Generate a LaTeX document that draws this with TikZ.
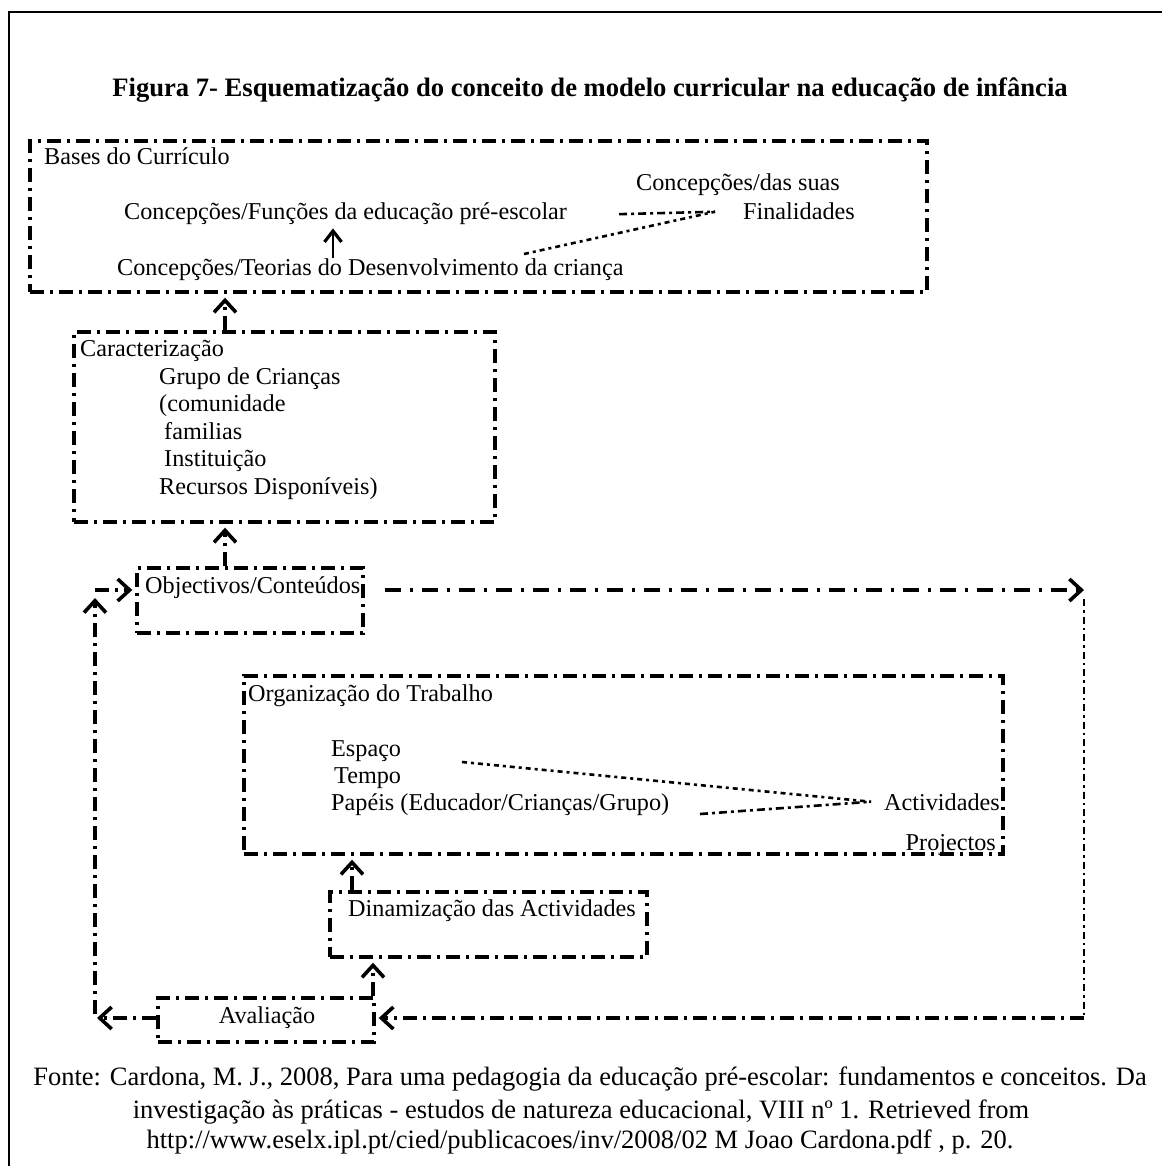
\documentclass[tikz,border=0pt]{standalone}
\usepackage{fontspec}
\setmainfont{Liberation Serif}
\usetikzlibrary{arrows.meta}
\tikzset{
  txt/.style={inner sep=0pt, anchor=base west, font=\fontsize{24.2}{29}\selectfont},
  panel/.style={draw, line width=3.4pt, dash pattern=on 14pt off 6pt on 3pt off 6pt, inner sep=0pt},
  flow/.style={line width=3.4pt, dash pattern=on 14pt off 6pt on 3pt off 6pt},
  longflow/.style={line width=3.4pt, dash pattern=on 16pt off 9pt on 3pt off 9pt},
  thinflow/.style={line width=2.6pt, dash pattern=on 8pt off 4pt on 3pt off 4pt},
  dotflow/.style={line width=2.6pt, dash pattern=on 5pt off 4pt on 3pt off 4pt},
  sideflow/.style={line width=2.2pt, dash pattern=on 7pt off 4pt on 2.5pt off 4pt},
  tip/.style={-{Straight Barb[length=12pt,width=22pt,line width=3.6pt]}},
  smalltip/.style={-{Straight Barb[length=11pt,width=17pt,line width=3.2pt]}},
}
\begin{document}
\begin{tikzpicture}[x=1pt,y=-1pt]
\useasboundingbox (0,0) rectangle (1161,1166);
% page frame (left and top edges)
\draw[line width=2.5pt] (9,1180) -- (9,12) -- (1175,12);

% title
\node[inner sep=0pt, anchor=base, font=\fontsize{26.6}{32}\selectfont\bfseries] (title) at (590,97)
  {Figura 7- Esquematização do conceito de modelo curricular na educação de infância};

% panels
\node[panel, minimum width=897pt, minimum height=151pt] (bases) at (478.5,216.5) {};
\node[panel, minimum width=421pt, minimum height=190pt] (carac) at (284.5,427) {};
\node[panel, minimum width=226pt, minimum height=65pt] (obj) at (250,600.5) {};
\node[panel, minimum width=759pt, minimum height=178pt] (org) at (623.5,765) {};
\node[panel, minimum width=317pt, minimum height=65pt] (dinam) at (488.5,924.5) {};
\node[panel, minimum width=216pt, minimum height=44pt] (aval) at (266,1020) {};

% texts of the curriculum bases
\node[txt] (basesT) at (44,165) {Bases do Currículo};
\node[txt] (funcoes) at (124,220) {Concepções/Funções da educação pré-escolar};
\node[txt] (dassuas) at (636,191) {Concepções/das suas};
\node[txt] (fin) at (743,220) {Finalidades};
\node[txt] (teorias) at (117,275) {Concepções/Teorias do Desenvolvimento da criança};

% texts of the characterisation
\node[txt] (caracT) at (80,356) {Caracterização};
\node[txt] (grupo) at (159,384) {Grupo de Crianças};
\node[txt] (comun) at (159,411) {(comunidade};
\node[txt] (famil) at (164,439) {familias};
\node[txt] (instit) at (164,466) {Instituição};
\node[txt] (recur) at (159,494) {Recursos Disponíveis)};

\node[txt] (objT) at (145,593) {Objectivos/Conteúdos};

% texts of the work organisation
\node[txt] (orgT) at (248,701) {Organização do Trabalho};
\node[txt] (espaco) at (331,756) {Espaço};
\node[txt] (tempo) at (334,783) {Tempo};
\node[txt] (papeis) at (331,810) {Papéis (Educador/Crianças/Grupo)};
\node[txt, anchor=base east] (activ) at (1000,810) {Actividades};
\node[txt, anchor=base east] (proj) at (996,850) {Projectos};

\node[txt] (dinamT) at (348,916) {Dinamização das Actividades};
\node[txt, anchor=base] (avalT) at (267,1023) {Avaliação};

% helper points for the connectors
\coordinate (c1) at (225,0);
\coordinate (c2) at (352,0);
\coordinate (c3) at (373,0);
\coordinate (a1) at (333,0);
\coordinate (d1) at (524,254);
\coordinate (e1) at (462,762);
\coordinate (e2) at (700,814);
\coordinate (rc1) at (1084,590);
\coordinate (rc0) at (1084,599);
\coordinate (rc2) at (1084,1018);
\coordinate (lc1) at (95,590);
\coordinate (lc0) at (95,598);
\coordinate (lc2) at (95,1018);

% connectors inside the curriculum bases
\draw[line width=1.6pt, smalltip] (a1 |- teorias.north) -- ([yshift=-3pt]a1 |- funcoes.south);
\draw[thinflow] ([xshift=52pt]funcoes.east) -- ([xshift=-28pt]fin.west);
\draw[dotflow] (d1) -- ([xshift=-28pt]fin.west);

% connectors inside the work organisation
\draw[dotflow] (e1) -- ([xshift=-13pt]activ.west);
\draw[thinflow] (e2) -- ([xshift=-13pt]activ.west);

% main flow
\draw[flow, tip] (c1 |- carac.north) -- ([yshift=-4pt]c1 |- bases.south);
\draw[flow, tip] (c1 |- obj.north) -- ([yshift=-4pt]c1 |- carac.south);
\draw[longflow, tip] ([xshift=20pt]obj.east |- rc1) -- (rc1);
\draw[sideflow] (rc0) -- (rc2);
\draw[flow, tip] (rc2) -- ([xshift=3pt]aval.east |- rc2);
\draw[flow, tip] (c2 |- dinam.north) -- ([yshift=-4pt]c2 |- org.south);
\draw[flow, tip] (c3 |- aval.north) -- ([yshift=-4pt]c3 |- dinam.south);
\draw[flow, tip] (aval.west |- lc2) -- ([xshift=2pt]lc2);
\draw[flow, tip] ([yshift=4pt]lc2) -- (lc0);
\draw[flow, tip] (lc1) -- ([xshift=-3pt]obj.west |- lc1);

% source
\node[inner sep=0pt, anchor=base, font=\fontsize{26.5}{32}\selectfont] (src1) at (590,1085)
  {Fonte: Cardona, M. J., 2008, Para uma pedagogia da educação pré-escolar: fundamentos e conceitos. Da};
\node[inner sep=0pt, anchor=base, font=\fontsize{26.5}{32}\selectfont] (src2) at (581,1118)
  {investigação às práticas - estudos de natureza educacional, VIII nº 1. Retrieved from};
\node[inner sep=0pt, anchor=base, font=\fontsize{26.5}{32}\selectfont] (src3) at (580,1148)
  {http://www.eselx.ipl.pt/cied/publicacoes/inv/2008/02 M Joao Cardona.pdf , p. 20.};
\end{tikzpicture}
\end{document}
